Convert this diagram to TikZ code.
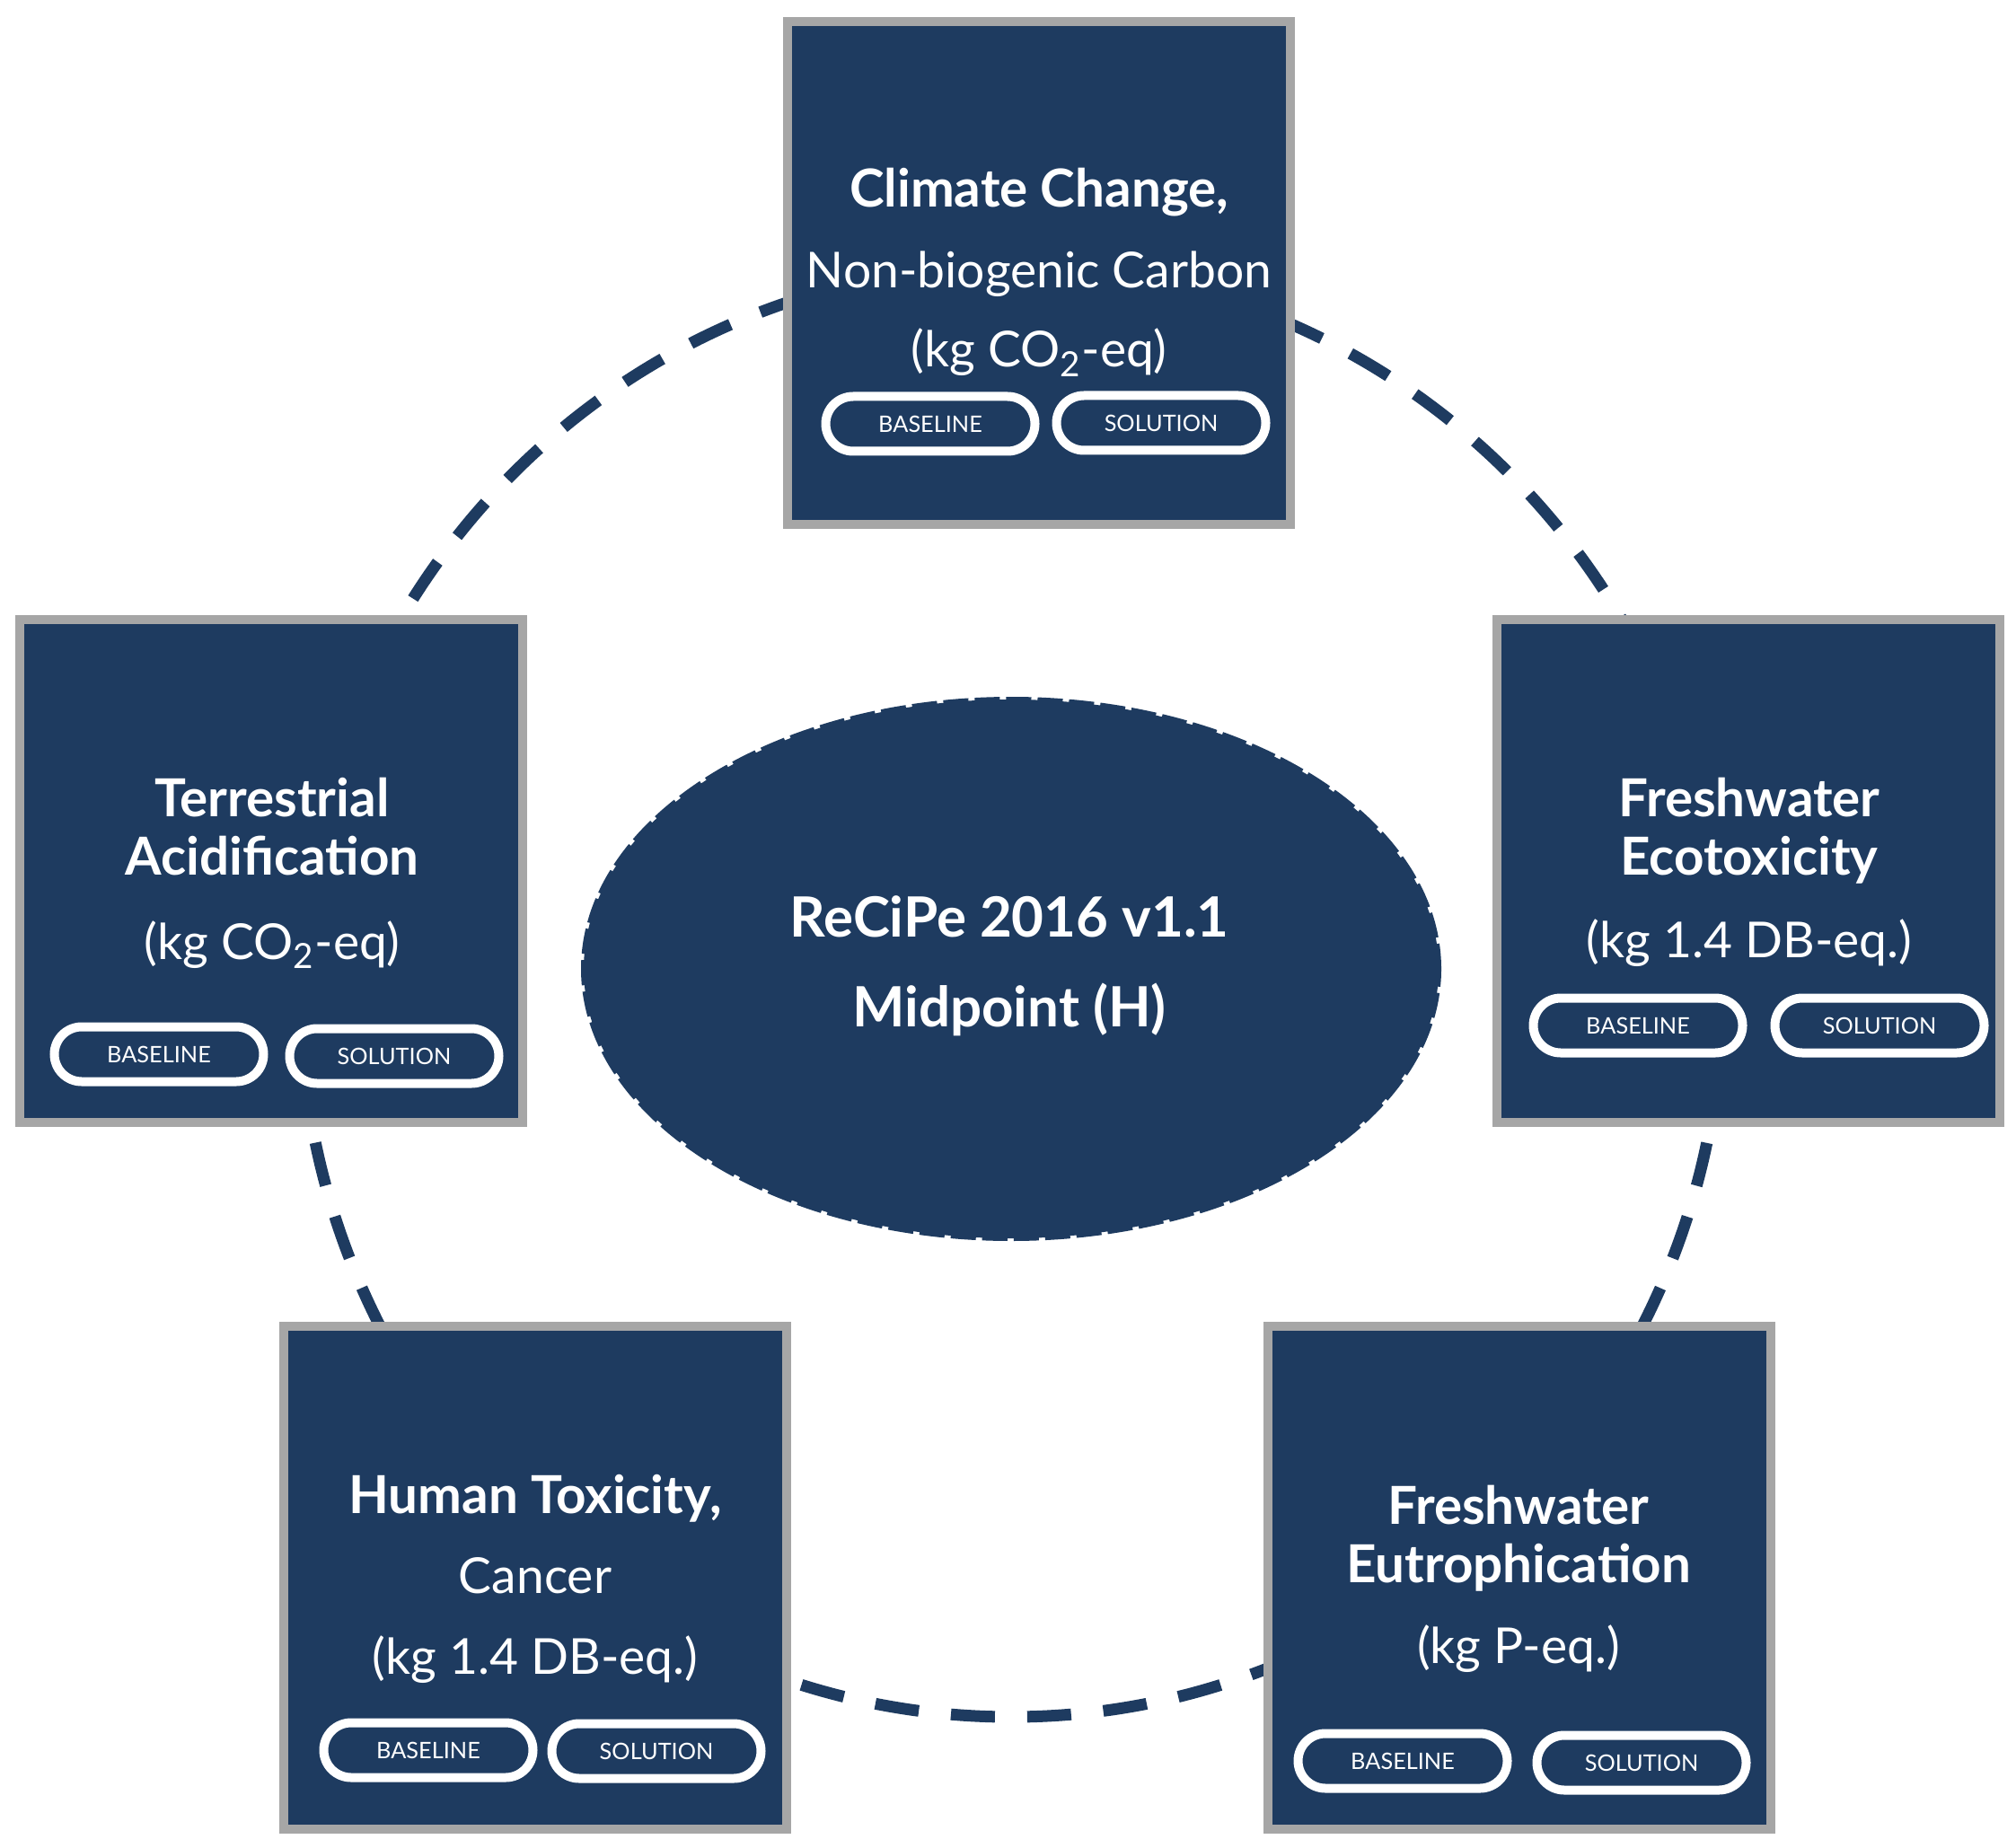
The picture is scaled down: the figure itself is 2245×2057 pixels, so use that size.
\documentclass[tikz,border=0pt]{standalone}
\usepackage{fontspec}
\setmainfont{Lato}
\usetikzlibrary{shapes.geometric}
\begin{document}
\begin{tikzpicture}[x=0.1mm,y=-0.1mm,
  impactbox/.style={draw=borderColor,fill=navyColor,line width=1mm,minimum width=56mm,minimum height=56mm,inner sep=0pt},
  titletext/.style={text=white,anchor=base,inner sep=0pt,outer sep=0pt,font=\bfseries\fontsize{16.6}{19}\selectfont},
  unittext/.style={text=white,anchor=base,inner sep=0pt,outer sep=0pt,font=\fontsize{15.7}{18}\selectfont},
  pill/.style={draw=white,line width=1mm,rounded corners=3.05mm,minimum width=23.3mm,minimum height=6.1mm,inner sep=0pt,text=white,font=\fontsize{7.2}{8}\selectfont},
  centretext/.style={text=white,anchor=base,inner sep=0pt,outer sep=0pt,font=\bfseries\fontsize{17.6}{20}\selectfont}]
\definecolor{navyColor}{RGB}{30,59,96}
\definecolor{borderColor}{RGB}{166,166,166}
\path[use as bounding box,fill=white] (0,0) rectangle (2245,2057);

\draw[draw=navyColor,line width=1.3mm,dash pattern=on 4.9mm off 3.6mm] (1126,1104) ellipse [x radius=792,y radius=808];

\node[ellipse,draw=navyColor,fill=navyColor,line width=0.6mm,dash pattern=on 2.8mm off 0.7mm,minimum width=95.2mm,minimum height=60mm,inner sep=0pt] (recipe) at (1126,1079) {};

\node[centretext] (recipe-1) at (1124,1043) {ReCiPe 2016 v1.1};

\node[centretext] (recipe-2) at (1124,1143) {Midpoint (H)};

\node[impactbox] (climate) at (1157,304) {};

\node[titletext] (climate-1) at (1157,231) {Climate Change,};

\node[unittext] (climate-2) at (1157,321) {Non-biogenic Carbon};

\node[unittext] (climate-3) at (1157,409) {(kg CO\textsubscript{2}-eq)};

\node[pill] (climate-base) at (1036,472) {BASELINE};

\node[pill] (climate-sol) at (1293,471) {SOLUTION};

\node[impactbox] (acid) at (302,970) {};

\node[titletext] (acid-1) at (303,909) {Terrestrial};

\node[titletext] (acid-2) at (303,974) {Acidification};

\node[unittext] (acid-3) at (303,1068) {(kg CO\textsubscript{2}-eq)};

\node[pill] (acid-base) at (177,1174) {BASELINE};

\node[pill] (acid-sol) at (439,1176) {SOLUTION};

\node[impactbox] (ecotox) at (1947,970) {};

\node[titletext] (ecotox-1) at (1948,909) {Freshwater};

\node[titletext] (ecotox-2) at (1948,974) {Ecotoxicity};

\node[unittext] (ecotox-3) at (1948,1066) {(kg 1.4 DB-eq.)};

\node[pill] (ecotox-base) at (1824,1142) {BASELINE};

\node[pill] (ecotox-sol) at (2093,1142) {SOLUTION};

\node[impactbox] (humtox) at (596,1757) {};

\node[titletext] (humtox-1) at (596,1685) {Human Toxicity,};

\node[unittext] (humtox-2) at (596,1774) {Cancer};

\node[unittext] (humtox-3) at (596,1864) {(kg 1.4 DB-eq.)};

\node[pill] (humtox-base) at (477,1949) {BASELINE};

\node[pill] (humtox-sol) at (731,1950) {SOLUTION};

\node[impactbox] (eutro) at (1692,1757) {};

\node[titletext] (eutro-1) at (1691,1697) {Freshwater};

\node[titletext] (eutro-2) at (1691,1762) {Eutrophication};

\node[unittext] (eutro-3) at (1691,1852) {(kg P-eq.)};

\node[pill] (eutro-base) at (1562,1961) {BASELINE};

\node[pill] (eutro-sol) at (1828,1963) {SOLUTION};
\end{tikzpicture}
\end{document}
